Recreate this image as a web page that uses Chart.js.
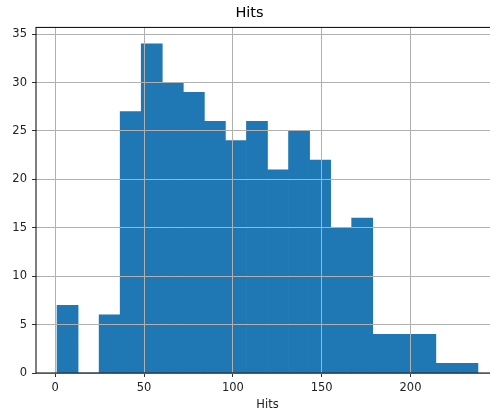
<!DOCTYPE html>
<html>
<head>
<meta charset="utf-8">
<script src="https://cdn.jsdelivr.net/npm/chart.js@4/dist/chart.umd.min.js"></script>
<style>
  html, body { margin: 0; padding: 0; background: #fff; overflow: hidden; }
  #wrap { width: 490px; height: 412px; overflow: hidden; }
</style>
</head>
<body>
<div id="wrap"><canvas id="histChart" width="510" height="412"></canvas></div>
<script>
// histogram of Hits, 20 bins
const binEdges = [1, 12.85, 24.7, 36.55, 48.4, 60.25, 72.1, 83.95, 95.8, 107.65, 119.5,
  131.35, 143.2, 155.05, 166.9, 178.75, 190.6, 202.45, 214.3, 226.15, 238];
const counts = [7, 0, 6, 27, 34, 30, 29, 26, 24, 26, 21, 25, 22, 15, 16, 4, 4, 4, 1, 1];
const xTicks = [0, 50, 100, 150, 200];
const yTicks = [0, 5, 10, 15, 20, 25, 30, 35];

const font = { family: "'DejaVu Sans', sans-serif", size: 11.5 };

// bars sit at bin centres
const points = counts.map((c, i) => ({ x: (binEdges[i] + binEdges[i + 1]) / 2, y: c }));

// axes frame (spines)
const frame = {
  id: "frame",
  afterDraw(chart) {
    const { ctx, chartArea: a } = chart;
    ctx.save();
    ctx.strokeStyle = "#000";
    ctx.lineWidth = 1;
    ctx.strokeRect(a.left, a.top, a.right - a.left, a.bottom - a.top);
    ctx.restore();
  },
};

const ctx = document.getElementById("histChart").getContext("2d");
new Chart(ctx, {
  type: "bar",
  data: {
    datasets: [
      {
        label: "Hits",
        data: points,
        backgroundColor: "#1f77b4",
        borderWidth: 0,
        barPercentage: 1,
        categoryPercentage: 1,
      },
    ],
  },
  options: {
    responsive: false,
    animation: false,
    layout: { padding: { left: 0, right: 11, top: 0, bottom: 0 } },
    plugins: {
      legend: { display: false },
      tooltip: { enabled: false },
      title: {
        display: true,
        text: "Hits",
        color: "#000",
        font: { family: font.family, size: 14.5, weight: "normal" },
        padding: { top: 5, bottom: 5 },
      },
    },
    scales: {
      x: {
        type: "linear",
        min: -10.85,
        max: 249.85,
        offset: false,
        afterBuildTicks: (s) => { s.ticks = xTicks.map((v) => ({ value: v })); },
        afterFit: (s) => { s.height = 39; },
        grid: { z: 1, color: "#b0b0b0", tickColor: "#333", tickLength: 4, offset: false },
        border: { display: false },
        ticks: { color: "#222", font: font, padding: 4, maxRotation: 0 },
        title: { display: true, text: "Hits", color: "#222", font: font, padding: 0 },
      },
      y: {
        min: 0,
        max: 35.7,
        afterBuildTicks: (s) => { s.ticks = yTicks.map((v) => ({ value: v })); },
        afterFit: (s) => { s.width = 36; },
        grid: { z: 1, color: "#b0b0b0", tickColor: "#333", tickLength: 4 },
        border: { display: false },
        ticks: { color: "#222", font: font, padding: 5 },
      },
    },
  },
  plugins: [frame],
});
</script>
</body>
</html>
